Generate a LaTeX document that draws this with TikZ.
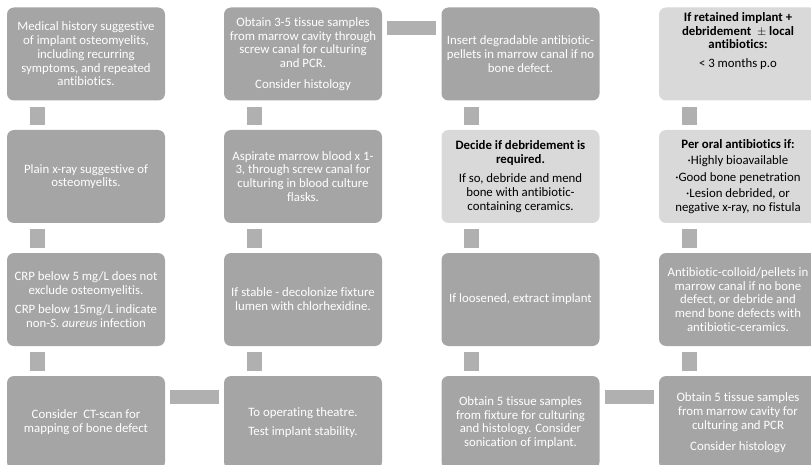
\documentclass[tikz,border=0pt]{standalone}
\usepackage{fontspec}
\setmainfont{Carlito}[Ligatures={TeX,NoCommon}]
\usetikzlibrary{calc}
\definecolor{boxdark}{HTML}{A5A5A5}
\definecolor{boxlight}{HTML}{D9D9D9}
\definecolor{conncol}{HTML}{B0B0B0}
\newcommand{\boxfont}{\fontsize{12.8}{13.8}\selectfont}
\begin{document}
\begin{tikzpicture}[x=1pt,y=-1pt,
  box/.style={rectangle,rounded corners=7pt,minimum width=158pt,minimum height=93pt,inner sep=0pt,align=center,font=\boxfont},
  dark/.style={box,fill=boxdark,text=white},
  light/.style={box,fill=boxlight,text=black},
  plaintext/.style={inner sep=0pt,align=center,font=\boxfont,text=black},
  conn/.style={fill=conncol}]
\useasboundingbox (0,0) rectangle (811,465);
% column 1
\node[dark] (r1c1) at (86,54) {Medical history suggestive\\of implant osteomyelits,\\including recurring\\symptoms, and repeated\\antibiotics.};
\node[dark] (r2c1) at (86,176.5) {Plain x-ray suggestive of\\osteomyelits.};
\node[dark] (r3c1) at (86,299.5) {CRP below 5 mg/L does not\\exclude osteomyelitis.\\[5pt]CRP below 15mg/L indicate\\non-\textit{S. aureus} infection};
\node[dark] (r4c1) at (86,422.5) {Consider\ \ CT-scan for\\mapping of bone defect};
% column 2
\node[dark] (r1c2) at (303,54) {Obtain 3-5 tissue samples\\from marrow cavity through\\screw canal for culturing\\and PCR.\\[7pt]Consider histology};
\node[dark] (r2c2) at (303,176.5) {Aspirate marrow blood x 1-\\3, through screw canal for\\culturing in blood culture\\flasks.};
\node[dark] (r3c2) at (303,299.5) {If stable - decolonize fixture\\lumen with chlorhexidine.};
\node[dark] (r4c2) at (303,422.5) {To operating theatre.\\[6pt]Test implant stability.};
% column 3
\node[dark] (r1c3) at (520.5,54) {Insert degradable antibiotic-\\pellets in marrow canal if no\\bone defect.};
\node[light] (r2c3) at (520.5,176.5) {\textbf{Decide if debridement is}\\\textbf{required.}\\[6pt]If so, debride and mend\\bone with antibiotic-\\containing ceramics.};
\node[dark] (r3c3) at (520.5,299.5) {If loosened, extract implant};
\node[dark] (r4c3) at (520.5,422.5) {Obtain 5 tissue samples\\from fixture for culturing\\and histology. Consider\\sonication of implant.};
% column 4
\node[light] (r1c4) at (738,54) {};
\node[plaintext] (r1c4t) at (738,41) {\textbf{If retained implant +}\\\textbf{debridement \ $\pm$ local}\\\textbf{antibiotics:}\\[5pt]< 3 months p.o};
\node[light] (r2c4) at (738,176.5) {\textbf{Per oral antibiotics if:}\\[2.5pt]·Highly bioavailable\\[2.5pt]·Good bone penetration\\[2.5pt]·Lesion debrided, or\\negative x-ray, no fistula};
\node[dark] (r3c4) at (738,299.5) {Antibiotic-colloid/pellets in\\marrow canal if no bone\\defect, or debride and\\mend bone defects with\\antibiotic-ceramics.};
\node[dark] (r4c4) at (738,422.5) {Obtain 5 tissue samples\\from marrow cavity for\\culturing and PCR\\[7pt]Consider histology};
% vertical connectors
\foreach \c in {1,2,3,4}{
  \foreach \r/\s in {1/2,2/3,3/4}{
    \fill[conn] ($(r\r c\c.south west)+(23,6)$) rectangle ($(r\s c\c.north west)+(38,-5)$);
  }
}
% horizontal connectors
\fill[conn] ($(r4c1.north east)+(5,14)$) rectangle ($(r4c2.north west)+(-5,28)$);
\fill[conn] ($(r1c2.north east)+(5,14)$) rectangle ($(r1c3.north west)+(-5,28)$);
\fill[conn] ($(r4c3.north east)+(5,14)$) rectangle ($(r4c4.north west)+(-5,28)$);
\end{tikzpicture}
\end{document}
